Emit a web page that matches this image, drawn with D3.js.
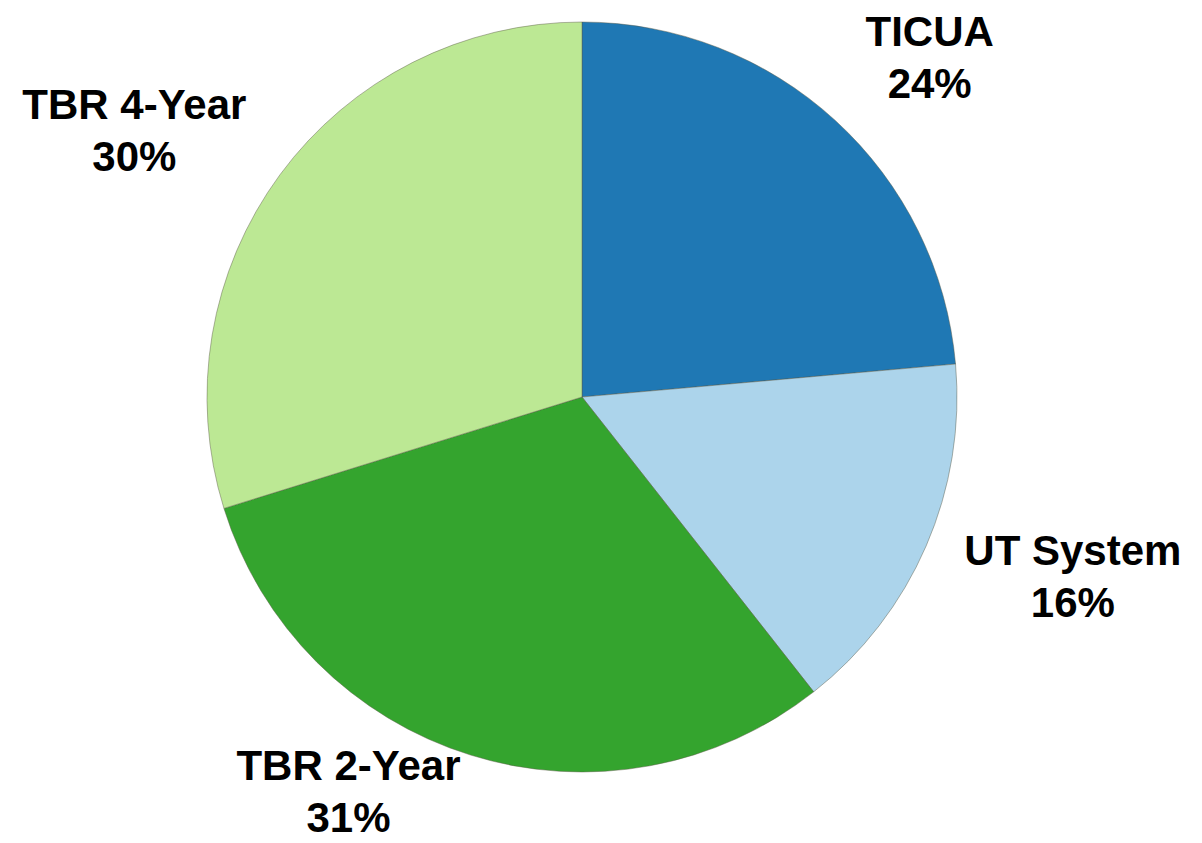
<!DOCTYPE html>
<html>
<head>
  <meta charset="utf-8">
  <script src="https://cdn.jsdelivr.net/npm/d3@7/dist/d3.min.js"></script>
  <style>
    html, body { margin: 0; padding: 0; background: #fff; }
    svg { display: block; }
    text { font-family: "Liberation Sans", Arial, sans-serif; font-weight: bold; }
  </style>
</head>
<body>
  <main id="container"></main>
  <script type="module">
    // slice data, clockwise from 12 o'clock
    const categories = ["TICUA", "UT System", "TBR 2-Year", "TBR 4-Year"];
    const shares = [23.6, 15.8, 30.8, 29.8];
    const pctLabels = ["24%", "16%", "31%", "30%"];
    const colors = ["#1f78b4", "#acd4eb", "#34a42e", "#bce894"];

    const width = 1202;
    const height = 843;
    const cx = 582, cy = 397;
    const radius = 375;
    const labelRadius = 500;
    const fontSize = 42;
    const lineGap = 52;

    // small nudges so labels sit where the original puts them
    const nudges = [[10, 44], [32, -5], [-85, -68], [-45, 44]];

    const svg = d3.select("#container")
      .append("svg")
      .attr("width", width)
      .attr("height", height);

    const pie = d3.pie().sort(null).value(d => d.value);
    const rows = categories.map((c, i) => ({ name: c, value: shares[i], pct: pctLabels[i], color: colors[i], i }));
    const arcs = pie(rows);

    const arc = d3.arc().innerRadius(0).outerRadius(radius);
    const labelArc = d3.arc().innerRadius(labelRadius).outerRadius(labelRadius);

    const g = svg.append("g").attr("transform", `translate(${cx},${cy})`);

    g.selectAll("path")
      .data(arcs)
      .join("path")
      .attr("d", arc)
      .attr("fill", d => d.data.color)
      .attr("stroke", "rgba(90,90,70,0.45)")
      .attr("stroke-width", 1);

    const labels = g.selectAll("g.label")
      .data(arcs)
      .join("g")
      .attr("class", "label")
      .attr("transform", d => {
        const [x, y] = labelArc.centroid(d);
        const [dx, dy] = nudges[d.data.i];
        return `translate(${x + dx},${y + dy})`;
      });

    labels.append("text")
      .attr("text-anchor", "middle")
      .attr("y", -lineGap / 2)
      .style("font-size", fontSize + "px")
      .text(d => d.data.name);

    labels.append("text")
      .attr("text-anchor", "middle")
      .attr("y", lineGap / 2)
      .style("font-size", fontSize + "px")
      .text(d => d.data.pct);
  </script>
</body>
</html>
